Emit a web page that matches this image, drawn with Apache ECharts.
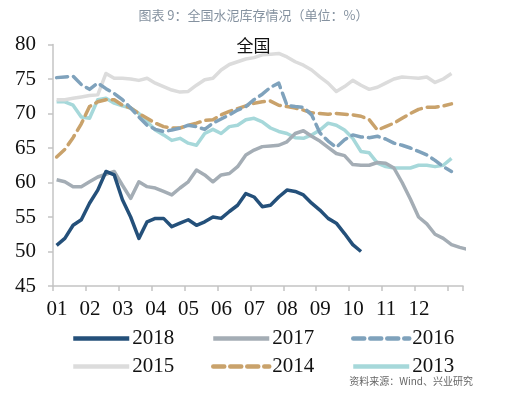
<!DOCTYPE html>
<html>
<head>
<meta charset="utf-8">
<script src="https://cdn.jsdelivr.net/npm/echarts@6/dist/echarts.min.js"></script>
<style>
  html, body { margin: 0; padding: 0; background: #fff; }
  #chart { width: 507px; height: 397px; }
</style>
</head>
<body>
<div id="chart"></div>
<script>
// 月份刻度（x 轴按月，数据为周度）
const monthLabels = ['01', '02', '03', '04', '05', '06', '07', '08', '09', '10', '11', '12']
const firstWeek = 1.11   // 第一周所在月份位置
const weekStep = 0.25    // 每周约 1/4 个月

// 各年度库存比（%）
const y2018 = [50.9, 51.9, 53.8, 54.6, 57.0, 58.9, 61.6, 61.1, 57.5, 55.0, 51.9, 54.3, 54.8, 54.8, 53.6, 54.1,
  54.6, 53.8, 54.3, 55.0, 54.8, 55.8, 56.7, 58.4, 57.9, 56.5, 56.7, 57.9, 58.9, 58.7, 58.2, 57.0, 56.0, 54.8,
  54.1, 52.6, 51.0, 50.0]
const y2017 = [60.4, 60.1, 59.4, 59.4, 60.1, 60.8, 61.2, 61.6, 59.6, 57.7, 60.1, 59.4, 59.2, 58.7, 58.2, 59.2,
  60.1, 61.8, 61.1, 60.1, 61.1, 61.3, 62.3, 64.0, 64.7, 65.2, 65.3, 65.4, 65.9, 67.1, 67.5, 66.7, 66.0, 65.1,
  64.2, 63.9, 62.6, 62.5, 62.5, 62.9, 62.8, 62.1, 60.0, 57.6, 55.0, 54.0, 52.5, 51.9, 51.0, 50.6, 50.3]
const y2016 = [75.2, 75.3, 75.4, 74.2, 73.5, 74.4, 73.6, 72.9, 72.0, 70.8, 69.5, 68.3, 67.7, 67.4, 67.6, 67.9,
  68.3, 68.1, 67.7, 68.6, 69.2, 69.8, 70.5, 71.0, 72.0, 72.8, 73.8, 74.4, 71.2, 71.0, 70.9, 69.8, 67.2, 66.0,
  65.1, 66.2, 66.9, 66.6, 66.5, 66.7, 66.3, 65.7, 65.4, 65.0, 64.5, 64.0, 63.2, 62.3, 61.6]
const y2015 = [72.0, 72.0, 72.2, 72.4, 72.6, 72.7, 75.8, 75.1, 75.1, 75.0, 74.8, 75.1, 74.4, 73.9, 73.4, 73.1,
  73.2, 74.1, 74.9, 75.1, 76.3, 77.1, 77.5, 77.9, 78.1, 78.5, 78.6, 78.7, 78.2, 77.5, 77.0, 76.3, 75.3, 74.4,
  73.2, 73.9, 74.8, 74.1, 73.5, 73.8, 74.4, 75.0, 75.3, 75.2, 75.1, 75.3, 74.5, 75.0, 75.8]
const y2014 = [63.7, 64.8, 66.5, 68.5, 71.0, 71.7, 72.0, 72.0, 71.2, 70.8, 70.0, 69.3, 68.6, 68.1, 67.9, 67.9,
  68.3, 68.6, 69.0, 69.1, 69.8, 70.3, 70.7, 71.1, 71.5, 71.7, 71.8, 71.2, 71.0, 70.8, 70.5, 70.1, 70.0, 69.9,
  70.0, 69.9, 69.8, 69.6, 69.1, 67.6, 68.1, 68.6, 69.3, 70.0, 70.6, 70.9, 70.9, 71.1, 71.4]
const y2013 = [71.7, 71.7, 71.2, 69.5, 69.3, 72.0, 72.2, 71.5, 71.1, 70.8, 70.0, 68.8, 67.6, 66.9, 66.1, 66.4,
  65.7, 65.4, 67.1, 67.7, 67.1, 68.1, 68.3, 69.1, 69.3, 68.8, 67.9, 67.4, 67.1, 66.5, 66.4, 66.9, 67.6, 68.6,
  68.3, 67.6, 66.4, 64.5, 64.3, 62.8, 62.3, 62.1, 62.1, 62.1, 62.5, 62.5, 62.3, 62.5, 63.5]

const chart = echarts.init(document.getElementById('chart'))

const toPoints = arr => arr.map((v, i) => [firstWeek + i * weekStep, v])

const seriesDefs = [
  { name: '2013', data: y2013, color: '#a6d8da', dashed: false },
  { name: '2014', data: y2014, color: '#c9a26b', dashed: true },
  { name: '2015', data: y2015, color: '#dcdcdc', dashed: false },
  { name: '2016', data: y2016, color: '#7fa2bc', dashed: true },
  { name: '2017', data: y2017, color: '#a4adb5', dashed: false },
  { name: '2018', data: y2018, color: '#24507a', dashed: false }
]

// 图例：两行三列
const legendPos = {
  '2018': [66, 323], '2017': [206, 323], '2016': [346, 323],
  '2015': [66, 351], '2014': [206, 351], '2013': [346, 351]
}
const legends = Object.keys(legendPos).map(name => ({
  data: [name],
  left: legendPos[name][0],
  top: legendPos[name][1],
  itemWidth: 56,
  itemHeight: 14,
  itemGap: 0,
  itemStyle: { opacity: 0 },
  lineStyle: { width: 4.5 },
  textStyle: { fontFamily: 'Liberation Serif', fontSize: 21, color: '#111', padding: [0, 0, 0, -2] }
}))

const option = {
  animation: false,
  title: [
    {
      text: '图表 9：全国水泥库存情况（单位：%）',
      left: 'center',
      top: 4,
      textStyle: { fontFamily: 'Noto Sans CJK SC', fontSize: 13, fontWeight: 'normal', color: '#8592a0' }
    },
    {
      text: '全国',
      left: 'center',
      top: 32,
      textStyle: { fontFamily: 'Noto Sans CJK SC', fontSize: 17, fontWeight: 'normal', color: '#111' }
    }
  ],
  legend: legends,
  grid: { left: 53, right: 44, top: 44.5, bottom: 111 },
  xAxis: {
    type: 'value',
    min: 1,
    max: 13.46,
    interval: 1,
    axisLine: { lineStyle: { color: '#c4c4c4', width: 1.5 } },
    axisTick: { show: true, length: 5, lineStyle: { color: '#c4c4c4', width: 1.5 } },
    splitLine: { show: false },
    axisLabel: {
      margin: 13,
      padding: [0, 0, 0, 8],
      fontFamily: 'Liberation Serif',
      fontSize: 21,
      color: '#111',
      formatter: v => monthLabels[Math.round(v) - 1] || ''
    }
  },
  yAxis: {
    type: 'value',
    min: 45,
    max: 80,
    interval: 5,
    axisLine: { show: true, lineStyle: { color: '#c4c4c4', width: 1.5 } },
    axisTick: { show: true, length: 5, lineStyle: { color: '#c4c4c4', width: 1.5 } },
    splitLine: { show: false },
    axisLabel: { margin: 17, fontFamily: 'Liberation Serif', fontSize: 21, color: '#111' }
  },
  graphic: [{
    type: 'text',
    right: 34,
    top: 376,
    style: { text: '资料来源：Wind、兴业研究', fontFamily: 'Noto Sans CJK SC', fontSize: 10, fill: '#666' }
  }],
  series: seriesDefs.map(s => ({
    name: s.name,
    type: 'line',
    data: toPoints(s.data),
    showSymbol: false,
    symbol: 'none',
    color: s.color,
    lineStyle: {
      color: s.color,
      width: 3.5,
      type: s.dashed ? [11, 6] : 'solid',
      cap: s.dashed ? 'round' : 'butt',
      join: 'round'
    }
  }))
}

chart.setOption(option)
</script>
</body>
</html>
